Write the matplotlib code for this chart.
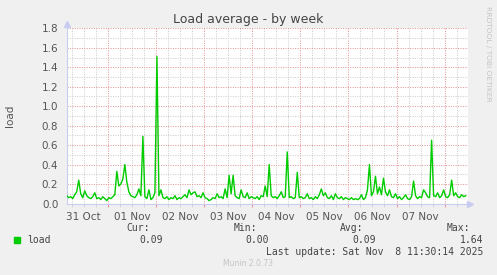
import matplotlib
matplotlib.use("Agg")
import matplotlib.pyplot as plt
import matplotlib.dates as mdates
import pandas as pd
import numpy as np

# ---- data (hourly samples) ----
start_time = "2025-10-31 03:30"
end_time = "2025-11-08 11:30"
load = [
    0.08, 0.06, 0.07, 0.05, 0.09, 0.12, 0.24, 0.10, 0.06, 0.13,
    0.08, 0.06, 0.05, 0.07, 0.11, 0.05, 0.06, 0.04, 0.07, 0.05,
    0.03, 0.06, 0.05, 0.07, 0.09, 0.33, 0.18, 0.20, 0.25, 0.40,
    0.22, 0.12, 0.08, 0.07, 0.06, 0.09, 0.15, 0.08, 0.69, 0.07,
    0.05, 0.14, 0.04, 0.06, 0.11, 1.51, 0.08, 0.14, 0.06, 0.05,
    0.07, 0.04, 0.06, 0.05, 0.08, 0.04, 0.06, 0.05, 0.07, 0.09,
    0.06, 0.14, 0.09, 0.11, 0.12, 0.07, 0.08, 0.06, 0.11, 0.06,
    0.05, 0.03, 0.04, 0.06, 0.05, 0.10, 0.06, 0.07, 0.05, 0.15,
    0.06, 0.29, 0.10, 0.29, 0.08, 0.06, 0.05, 0.14, 0.07, 0.06,
    0.11, 0.05, 0.07, 0.06, 0.05, 0.07, 0.04, 0.08, 0.07, 0.18,
    0.07, 0.40, 0.08, 0.06, 0.07, 0.05, 0.08, 0.12, 0.06, 0.07,
    0.53, 0.06, 0.07, 0.05, 0.06, 0.32, 0.06, 0.07, 0.05, 0.06,
    0.10, 0.05, 0.06, 0.04, 0.07, 0.05, 0.09, 0.15, 0.08, 0.11,
    0.06, 0.05, 0.08, 0.04, 0.10, 0.06, 0.05, 0.07, 0.04, 0.06,
    0.05, 0.04, 0.06, 0.04, 0.05, 0.04, 0.05, 0.09, 0.04, 0.06,
    0.14, 0.40, 0.08, 0.12, 0.28, 0.10, 0.17, 0.09, 0.26, 0.12,
    0.08, 0.14, 0.07, 0.06, 0.10, 0.05, 0.07, 0.04, 0.06, 0.09,
    0.05, 0.04, 0.07, 0.23, 0.08, 0.05, 0.07, 0.06, 0.14, 0.11,
    0.07, 0.06, 0.65, 0.08, 0.07, 0.11, 0.06, 0.08, 0.14, 0.07,
    0.06, 0.09, 0.24, 0.08, 0.11, 0.07, 0.06, 0.09, 0.07, 0.08,
]
y_ticks = [0.0, 0.2, 0.4, 0.6, 0.8, 1.0, 1.2, 1.4, 1.6, 1.8]
stat_labels = ["Cur:", "Min:", "Avg:", "Max:"]
stat_values = ["0.09", "0.00", "0.09", "1.64"]
series_name = "load"
last_update = "Last update: Sat Nov  8 11:30:14 2025"

times = pd.date_range(start_time, periods=len(load), freq="h")

W, H = 497, 275
fig = plt.figure(figsize=(W / 100, H / 100), dpi=100, facecolor="#F0F0F0")
L, R, T, B = 66.7, 467.7, 28.3, 203.5
ax = fig.add_axes([L / W, 1 - B / H, (R - L) / W, (B - T) / H])
ax.set_facecolor("white")

ax.plot(times, load, color="#00CC00", lw=1.0, zorder=3)

ax.set_xlim(pd.Timestamp(start_time), pd.Timestamp(end_time))
ax.set_ylim(0, 1.8)

# grid
ax.yaxis.set_major_locator(matplotlib.ticker.FixedLocator(y_ticks))
ax.yaxis.set_minor_locator(matplotlib.ticker.MultipleLocator(0.1))
ax.xaxis.set_major_locator(mdates.DayLocator())
ax.xaxis.set_minor_locator(mdates.HourLocator(byhour=[6, 12, 18]))
ax.grid(which="major", color="#E49A9A", linestyle=(0, (1, 1.3)), lw=0.75, zorder=1)
ax.grid(which="minor", color="#CFCFCF", linestyle=(0, (1, 1.3)), lw=0.75, zorder=0)
ax.set_yticklabels([f"{v:.1f}" for v in y_ticks])
ax.tick_params(axis="y", which="both", length=0, pad=6, labelsize=7.5, labelcolor="#555555")
ax.tick_params(axis="x", which="major", length=2, color="#E49A9A", labelbottom=False)
ax.tick_params(axis="x", which="minor", length=2, color="#D0D0D0", labelsize=7.5,
               labelcolor="#555555", pad=4)
# day labels at noon
ax.xaxis.set_minor_formatter(matplotlib.ticker.FuncFormatter(
    lambda v, p: mdates.num2date(v).strftime("%d %b") if mdates.num2date(v).hour == 12 else ""))

for s in ["top", "right"]:
    ax.spines[s].set_visible(False)
for s in ["left", "bottom"]:
    ax.spines[s].set_color("#C8CCF0")
    ax.spines[s].set_linewidth(0.8)

# axis arrows
ax.plot([0], [1.025], marker="^", ms=4, color="#C8CCF0", transform=ax.transAxes, clip_on=False)
ax.plot([1.006], [0], marker=">", ms=4, color="#C8CCF0", transform=ax.transAxes, clip_on=False)

def px(x, y):
    return x / W, 1 - y / H

fig.text(*px(248, 19), "Load average - by week", ha="center", va="center",
         fontsize=9.0, color="#444444")
fig.text(*px(10, 116), series_name, rotation=90, ha="center", va="center",
         fontsize=7.5, color="#555555")
fig.text(*px(488, 54), "RRDTOOL / TOBI OETIKER", rotation=270, ha="center", va="center",
         fontsize=5.4, color="#C4C4C4")

mono = "DejaVu Sans Mono"
label_right = [150, 257, 363, 470]
value_right = [163, 269, 376, 483]
for lab, xr in zip(stat_labels, label_right):
    fig.text(*px(xr, 228), lab, ha="right", va="center", fontsize=7, family=mono, color="#444444")
for val, xr in zip(stat_values, value_right):
    fig.text(*px(xr, 240), val, ha="right", va="center", fontsize=7, family=mono, color="#444444")
fig.patches.append(matplotlib.patches.Rectangle(px(14, 243), 6 / W, 6 / H,
                   transform=fig.transFigure, color="#00CC00"))
fig.text(*px(27, 240), series_name, ha="left", va="center", fontsize=7, family=mono, color="#444444")
fig.text(*px(483, 252), last_update, ha="right", va="center", fontsize=7, family=mono, color="#444444")
fig.text(*px(248, 264), "Munin 2.0.73", ha="center", va="center", fontsize=5.5, color="#C4C4C4")

fig.savefig("out.png", dpi=100, facecolor=fig.get_facecolor())
